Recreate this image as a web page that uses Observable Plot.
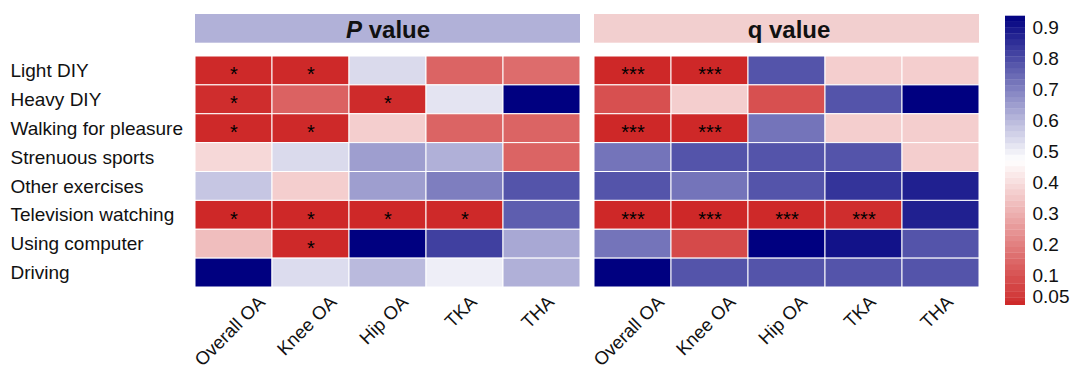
<!DOCTYPE html>
<html>
<head>
<meta charset="utf-8">
<script src="https://cdn.jsdelivr.net/npm/d3@7"></script>
<script src="https://cdn.jsdelivr.net/npm/@observablehq/plot@0.6"></script>
<style>
  body { margin: 0; background: #fff; }
  #chart { position: relative; width: 1070px; height: 366px; font-family: "Liberation Sans", Arial, sans-serif; }
  #chart svg { position: absolute; top: 0; }
</style>
</head>
<body>
<div id="chart"></div>
<script>
// Sedentary / activity exposures (rows) and osteoarthritis outcomes (columns)
const activities = [
  "Light DIY", "Heavy DIY", "Walking for pleasure", "Strenuous sports",
  "Other exercises", "Television watching", "Using computer", "Driving"
];
const outcomes = ["Overall OA", "Knee OA", "Hip OA", "TKA", "THA"];

// P values, one row per activity, columns in outcome order
const pValues = [
  [0.012, 0.012, 0.539, 0.138, 0.155],
  [0.020, 0.134, 0.015, 0.520, 0.937],
  [0.012, 0.012, 0.366, 0.138, 0.138],
  [0.387, 0.539, 0.648, 0.615, 0.138],
  [0.575, 0.366, 0.648, 0.707, 0.783],
  [0.010, 0.010, 0.010, 0.012, 0.765],
  [0.331, 0.012, 0.937, 0.820, 0.630],
  [0.937, 0.535, 0.597, 0.502, 0.615]
];

// q values (FDR-adjusted), same layout
const qValues = [
  [0.010, 0.010, 0.783, 0.366, 0.366],
  [0.095, 0.366, 0.095, 0.783, 0.937],
  [0.010, 0.010, 0.725, 0.366, 0.366],
  [0.725, 0.783, 0.783, 0.783, 0.366],
  [0.783, 0.725, 0.783, 0.842, 0.879],
  [0.010, 0.010, 0.012, 0.020, 0.879],
  [0.725, 0.082, 0.937, 0.904, 0.783],
  [0.937, 0.783, 0.783, 0.783, 0.783]
];

const panels = ["P", "q"];
const legendTicks = [0.05, 0.1, 0.2, 0.3, 0.4, 0.5, 0.6, 0.7, 0.8, 0.9];
const alpha = 0.05;

// colour range of the bar/heatmap
const vmin = 0.005, vmax = 0.937, vmid = (vmin + vmax) / 2;
const colorOpts = {
  type: "linear",
  domain: [vmin, vmid, vmax],
  range: ["#CD2626", "#FFFFFF", "#000080"],
  interpolate: "rgb"
};

// long-format table for the heatmap cells
const cells = [];
activities.forEach((a, i) => outcomes.forEach((o, j) => {
  cells.push({panel: "P", activity: a, outcome: o, value: pValues[i][j],
              star: pValues[i][j] < alpha ? "*" : ""});
  cells.push({panel: "q", activity: a, outcome: o, value: qValues[i][j],
              star: qValues[i][j] < alpha ? "***" : ""});
}));

const W = 1070, H = 366;
const mTop = 56, mBottom = 79, mLeft = 195, mRight = 91;
const frameH = H - mTop - mBottom;
const font = "Liberation Sans, Arial, sans-serif";
const ink = "#111";

// width of rotated column labels, used to hang them under each column
const ctx = document.createElement("canvas").getContext("2d");
const xFont = 18.5;
ctx.font = `${xFont}px "Liberation Sans", Arial, sans-serif`;
const xLabelMarks = outcomes.map(o => {
  const L = ctx.measureText(o).width;
  const cy = 294 + 0.354 * (L + 13.2);
  return Plot.text([o], {
    x: d => d, text: d => d, frameAnchor: "bottom", lineAnchor: "middle",
    rotate: -45, dx: -4, dy: cy - (H - mBottom),
    fontSize: xFont, fill: ink
  });
});

const main = Plot.plot({
  width: W, height: H,
  marginTop: mTop, marginBottom: mBottom, marginLeft: mLeft, marginRight: mRight,
  style: {fontFamily: font, background: "transparent"},
  fx: {domain: panels, paddingInner: 14 / 399, paddingOuter: 0, round: false, axis: null},
  x: {domain: outcomes, padding: 0, round: false, axis: null},
  y: {domain: activities, padding: 0, round: false, axis: null},
  color: colorOpts,
  marks: [
    // panel header strips
    Plot.rect([{panel: "P"}], {fx: "panel", fill: "#B1B1D8", insetTop: 14 - mTop, insetBottom: frameH - (42.7 - mTop)}),
    Plot.rect([{panel: "q"}], {fx: "panel", fill: "#F2CFCF", insetTop: 14 - mTop, insetBottom: frameH - (42.7 - mTop)}),
    Plot.text([{panel: "P"}], {fx: "panel", text: () => "P", frameAnchor: "top", lineAnchor: "middle",
      textAnchor: "end", dx: -26, dy: -26, fontSize: 24, fontWeight: "bold", fontStyle: "italic", fill: ink}),
    Plot.text([{panel: "P"}], {fx: "panel", text: () => "value", frameAnchor: "top", lineAnchor: "middle",
      textAnchor: "start", dx: -19.3, dy: -26, fontSize: 24, fontWeight: "bold", fill: ink}),
    Plot.text([{panel: "q"}], {fx: "panel", text: () => "q value", frameAnchor: "top", lineAnchor: "middle",
      dx: 2, dy: -26, fontSize: 24, fontWeight: "bold", fill: ink}),
    // heatmap
    Plot.cell(cells, {fx: "panel", x: "outcome", y: "activity", fill: "value",
      stroke: "white", strokeWidth: 1, inset: 0}),
    Plot.text(cells.filter(d => d.star), {fx: "panel", x: "outcome", y: "activity", text: "star",
      fontSize: 20, dy: 4, fill: "#000"}),
    // row labels (left panel only)
    Plot.text(activities, {fx: () => "P", y: d => d, text: d => d, frameAnchor: "left",
      lineAnchor: "middle", textAnchor: "start", dx: 10 - mLeft, fontSize: 19, fill: ink}),
    ...xLabelMarks
  ]
});
main.style.left = "0px";

// colour bar legend, drawn as stacked bands of the same colour scale
const nBands = 50;
const bandEdges = d3.range(nBands + 1).map(i => vmin + (vmax - vmin) * i / nBands);
const bands = d3.pairs(bandEdges).map(([a, b]) => ({y1: a, y2: b, v: (a + b) / 2}));

const legend = Plot.plot({
  width: 75, height: H,
  marginTop: 16, marginBottom: H - 305, marginLeft: 10, marginRight: 45,
  style: {fontFamily: font, background: "transparent"},
  y: {type: "linear", domain: [vmin, 0.05, 0.1, 0.9, vmax], range: [305, 296, 275.3, 27.7, 16], axis: null},
  color: colorOpts,
  marks: [
    Plot.rect(bands, {y1: "y1", y2: "y2", fill: "v", inset: 0, insetTop: -0.3}),
    Plot.axisY(legendTicks, {anchor: "right", tickSize: 0, tickPadding: 7, fontSize: 19,
      tickFormat: d => String(d), label: null, fill: ink})
  ]
});
legend.style.left = "995px";

const chart = document.getElementById("chart");
chart.appendChild(main);
chart.appendChild(legend);
</script>
</body>
</html>
